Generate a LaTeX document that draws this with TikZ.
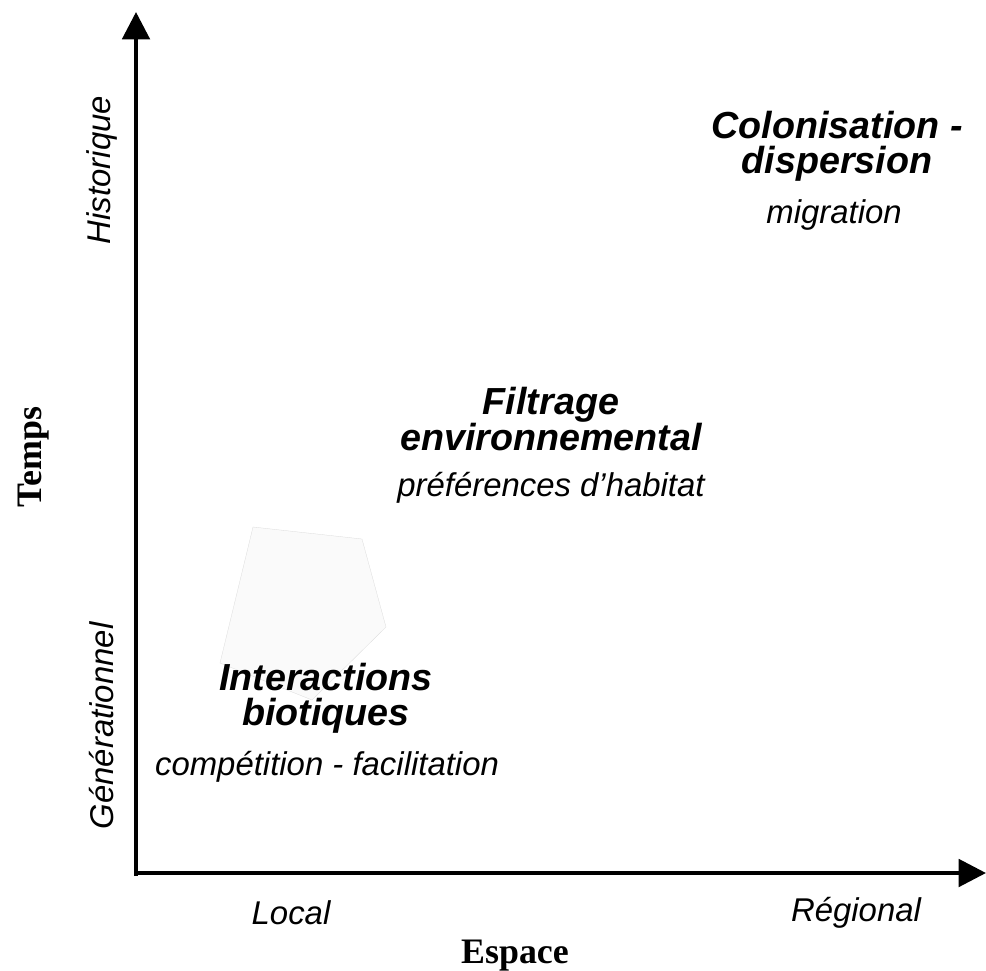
\documentclass[tikz,border=0pt]{standalone}
\usepackage{fontspec}
\setmainfont{Liberation Sans}
\newfontfamily\timesfont{Liberation Serif}
\usetikzlibrary{arrows.meta}

\begin{document}
\begin{tikzpicture}[x=0.025cm, y=-0.025cm,
		axe/.style={line width=2.8pt, -{Triangle[length=19.5pt, width=19.5pt]}},
		titre/.style={font=\fontsize{26.8}{26}\selectfont\bfseries\itshape, align=center, inner sep=0pt},
		sous/.style={font=\fontsize{23.4}{24}\selectfont\itshape, inner sep=0pt},
		nomaxe/.style={font=\fontsize{25.5}{26}\selectfont\timesfont\bfseries, inner sep=0pt}]

		\useasboundingbox (0, 0) rectangle (986, 971);

		% la forme grise
		\draw[draw=black!15, fill=black!2, very thin] (253, 527) -- (362, 539) -- (386, 627) -- (312, 700) -- (220, 663) -- cycle;

		% axes
		\coordinate (origine) at (136, 873);
		\coordinate (haut) at (136, 12);
		\coordinate (droite) at (986, 873);
		\draw[axe] (136, 876) -- (haut);
		\draw[axe] (134, 873) -- (droite);

		% textes
		\node[titre] (colonisation) at (837, 146) {Colonisation -\\[-1pt]dispersion};
		\node[sous] (migration) at (834, 215) {migration};
		\node[titre] (filtrage) at (551, 419) {Filtrage\\[-1pt]environnemental};
		\node[sous] (habitat) at (551, 488) {préférences d’habitat};
		\node[titre] (interactions) at (326, 698) {Interactions\\[-1pt]biotiques};
		\node[sous] (competition) at (327, 767) {compétition - facilitation};

		\node[sous] (local) at (291, 913) {Local};
		\node[sous] (regional) at (856, 913) {Régional};
		\node[sous, rotate=90] (historique) at (102, 170) {Historique};
		\node[sous, rotate=90] (generation) at (102, 726) {Générationnel};

		\node[nomaxe] (espace) at (515, 956) {Espace};
		\node[nomaxe, rotate=90] (temps) at (34, 457) {Temps};
	\end{tikzpicture}
\end{document}
